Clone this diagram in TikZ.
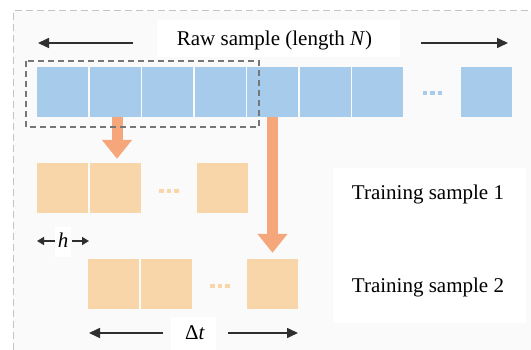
\documentclass[tikz,border=0pt]{standalone}
\usepackage{fontspec}
\setmainfont{Liberation Serif}
\usetikzlibrary{arrows.meta}

\definecolor{cellblue}{HTML}{A6CBEB}
\definecolor{cellpeach}{HTML}{F9D6A9}
\definecolor{flowcol}{HTML}{F5A67B}
\definecolor{panelbg}{HTML}{FAFAFA}
\definecolor{darkline}{HTML}{2F2F2F}
\definecolor{framegray}{HTML}{C4C4C4}
\definecolor{selgray}{HTML}{767676}

\tikzset{
  cell/.style={minimum width=51pt, minimum height=50pt, inner sep=0pt, draw=none},
  bluecell/.style={cell, fill=cellblue},
  peachcell/.style={cell, fill=cellpeach},
  dotsq/.style={minimum size=4.5pt, inner sep=0pt, draw=none},
  lbl/.style={inner sep=0pt, text=black, font=\fontsize{21}{25}\selectfont},
  flowarrow/.style={draw=flowcol, line width=11pt,
    -{Triangle[length=19pt, width=29pt, fill=flowcol]}},
  longarrow/.style={draw=darkline, line width=1.6pt,
    -{Triangle[length=11pt, width=10pt]}},
  shortarrow/.style={draw=darkline, line width=1.6pt,
    -{Triangle[length=7pt, width=8pt]}},
  selection/.style={draw=selgray, line width=1.6pt, dash pattern=on 6pt off 4pt},
}

\begin{document}
\begin{tikzpicture}[x=1pt, y=-1pt]
  \useasboundingbox (0,0) rectangle (531,350);
  \fill[white] (0,0) rectangle (531,350);

  % light panel with its dashed border (open to the right and bottom)
  \fill[panelbg] (13,11) rectangle (531,350);
  \draw[framegray, line width=1pt, dash pattern=on 7pt off 4pt]
    (13,350) -- (13,11) -- (531,11);

  % white patches behind the labels
  \fill[white] (157,20) rectangle (400,57);
  \fill[white] (333,168) rectangle (526,323);
  \fill[white] (55,227) rectangle (71,257);
  \fill[white] (171,317) rectangle (216,350);

  % raw sample cells
  \node[bluecell] (b1) at (62.5,92) {};
  \node[bluecell] (b2) at (115,92) {};
  \node[bluecell] (b3) at (167.5,92) {};
  \node[bluecell] (b4) at (220,92) {};
  \node[bluecell] (b5) at (272.5,92) {};
  \node[bluecell] (b6) at (325,92) {};
  \node[bluecell] (b7) at (377.5,92) {};
  \node[bluecell] (bN) at (486.5,92) {};
  \foreach \i/\dx in {1/-7.5, 2/0, 3/7.5}
    \node[dotsq, fill=cellblue] (bdot\i) at (432.5+\dx,93) {};

  % training sample 1
  \node[peachcell] (s1a) at (62.5,188) {};
  \node[peachcell] (s1b) at (115,188) {};
  \node[peachcell] (s1c) at (222,188) {};
  \foreach \i/\dx in {1/-7.5, 2/0, 3/7.5}
    \node[dotsq, fill=cellpeach] (s1dot\i) at (169+\dx,191) {};

  % training sample 2
  \node[peachcell] (s2a) at (113.5,284) {};
  \node[peachcell] (s2b) at (166,284) {};
  \node[peachcell] (s2c) at (272.5,284) {};
  \foreach \i/\dx in {1/-7.5, 2/0, 3/7.5}
    \node[dotsq, fill=cellpeach] (s2dot\i) at (220+\dx,286) {};

  % sliding-window arrows
  \draw[flowarrow, shorten >=4pt] ([xshift=2pt]b2.south) -- ([xshift=2pt]s1b.north);
  \draw[flowarrow, shorten >=6pt] (b5.south) -- (s2c.north);

  % current window
  \draw[selection] (26,61) rectangle (259,127);

  % labels
  \node[lbl, anchor=base] (raw) at (274.5,46) {Raw sample (length \textit{N})};
  \node[lbl, anchor=base] (ts1) at (428,200) {Training sample 1};
  \node[lbl, anchor=base] (ts2) at (428,293) {Training sample 2};
  \node[lbl, anchor=base] (hlab) at (63,248) {\textit{h}};
  \node[lbl, anchor=base] (dtlab) at (195,340) {Δ\textit{t}};

  % dimension arrows
  \coordinate (rawL0) at (133,43);  \coordinate (rawL1) at (38,43);
  \coordinate (rawR0) at (421,43);  \coordinate (rawR1) at (508,43);
  \draw[longarrow] (rawL0) -- (rawL1);
  \draw[longarrow] (rawR0) -- (rawR1);

  \coordinate (hL0) at (55,241);  \coordinate (hL1) at (37,241);
  \coordinate (hR0) at (72,241);  \coordinate (hR1) at (89,241);
  \draw[shortarrow] (hL0) -- (hL1);
  \draw[shortarrow] (hR0) -- (hR1);

  \coordinate (dtL0) at (163,333);  \coordinate (dtL1) at (89,333);
  \coordinate (dtR0) at (228,333);  \coordinate (dtR1) at (298,333);
  \draw[longarrow] (dtL0) -- (dtL1);
  \draw[longarrow] (dtR0) -- (dtR1);
\end{tikzpicture}
\end{document}
